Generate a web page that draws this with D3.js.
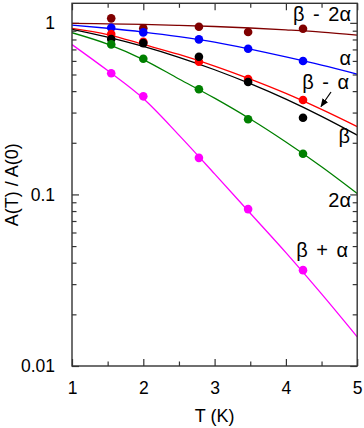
<!DOCTYPE html>
<html><head><meta charset="utf-8">
<script src="https://cdn.jsdelivr.net/npm/d3@7"></script>
<style>
body{margin:0;background:#fff}
svg text{font-family:"Liberation Sans",Arial,Helvetica,sans-serif;fill:#000}
</style>
</head><body>
<svg id="chart" width="364" height="428"></svg>
<script>
// ---- data ----
const curveT = [1, 1.5, 2, 2.5, 3, 3.5, 4, 4.5, 5];
const pointT = [1.55, 2.0, 2.78, 3.47, 4.24];

const fitBeta2Alpha   = [0.993, 0.987, 0.979, 0.967, 0.952, 0.933, 0.910, 0.884, 0.849];
const fitAlpha        = [0.971, 0.930, 0.884, 0.832, 0.773, 0.703, 0.633, 0.567, 0.503];
const fitBetaMinus    = [0.929, 0.855, 0.749, 0.654, 0.560, 0.470, 0.388, 0.313, 0.2485];
const fitBeta         = [0.917, 0.826, 0.729, 0.630, 0.533, 0.442, 0.359, 0.285, 0.2217];
const fit2Alpha       = [0.876, 0.752, 0.611, 0.471, 0.364, 0.275, 0.202, 0.145, 0.1013];
const fitBetaPlus     = [0.747, 0.527, 0.362, 0.2217, 0.1318, 0.0777, 0.0458, 0.0263, 0.01478];

const ptsBeta2Alpha   = [1.062, 0.929, 0.949, 0.884, 0.924];
const ptsAlpha        = [0.936, 0.880, 0.801, 0.706, 0.599];
const ptsBetaMinus    = [0.860, 0.775, 0.593, 0.470, 0.355];
const ptsBeta         = [0.804, 0.762, 0.634, 0.452, 0.280];
const pts2Alpha       = [0.749, 0.618, 0.410, 0.274, 0.1725];
const ptsBetaPlus     = [0.508, 0.373, 0.1634, 0.0821, 0.0362];

const seriesNames = ["β - 2α", "α", "β - α", "β", "2α", "β + α"];
const xMajorTicks = [1, 2, 3, 4, 5];
const xMinorTicks = [1.5, 2.5, 3.5, 4.5];
const yMajorTicks = [0.01, 0.1, 1];
const yTickLabels = ["0.01", "0.1", "1"];
const yMinorTicks = [0.02,0.03,0.04,0.05,0.06,0.07,0.08,0.09,0.2,0.3,0.4,0.5,0.6,0.7,0.8,0.9];
const xTitle = "T (K)";
const yTitle = "A(T) / A(0)";

// ---- styling / layout ----
const colors = ["#800000", "#0000ff", "#ff0000", "#000000", "#008000", "#ff00ff"];
const fits = [fitBeta2Alpha, fitAlpha, fitBetaMinus, fitBeta, fit2Alpha, fitBetaPlus];
const pts  = [ptsBeta2Alpha, ptsAlpha, ptsBetaMinus, ptsBeta, pts2Alpha, ptsBetaPlus];
const labelPos = [[351, 20.5], [351, 65], [349, 88.5], [350, 143], [351, 207], [348, 257]];

const L = 72, R = 357.2, T = 3.3, B = 366;
const svg = d3.select("#chart");
const x = d3.scaleLinear().domain([1, 5]).range([L, R]);
const y = d3.scaleLog().domain([0.01, 1.3]).range([B, T]);

const axisColor = "#333";
function styleAxis(g){
  g.select(".domain").remove();
  g.selectAll(".tick line").attr("stroke", axisColor).attr("stroke-width", 1.2);
  g.selectAll(".tick text").attr("font-size", 17.5).attr("fill", "#000")
    .style("font-family", '"Liberation Sans",Arial,sans-serif');
}
// bottom
svg.append("g").attr("transform", `translate(0,${B})`)
  .call(d3.axisBottom(x).tickValues(xMajorTicks).tickSizeInner(-7).tickSizeOuter(0).tickPadding(16).tickFormat(d3.format("d")))
  .call(styleAxis);
svg.append("g").attr("transform", `translate(0,${B})`)
  .call(d3.axisBottom(x).tickValues(xMinorTicks).tickSizeInner(-4.5).tickSizeOuter(0).tickFormat(""))
  .call(styleAxis);
// top
svg.append("g").attr("transform", `translate(0,${T})`)
  .call(d3.axisTop(x).tickValues(xMajorTicks).tickSizeInner(-7).tickSizeOuter(0).tickFormat(""))
  .call(styleAxis);
svg.append("g").attr("transform", `translate(0,${T})`)
  .call(d3.axisTop(x).tickValues(xMinorTicks).tickSizeInner(-4.5).tickSizeOuter(0).tickFormat(""))
  .call(styleAxis);
// left
svg.append("g").attr("transform", `translate(${L},0)`)
  .call(d3.axisLeft(y).tickValues(yMajorTicks).tickSizeInner(-7).tickSizeOuter(0).tickPadding(17)
        .tickFormat((d, i) => yTickLabels[i]))
  .call(styleAxis);
svg.append("g").attr("transform", `translate(${L},0)`)
  .call(d3.axisLeft(y).tickValues(yMinorTicks).tickSizeInner(-4.5).tickSizeOuter(0).tickFormat(""))
  .call(styleAxis);
// right
svg.append("g").attr("transform", `translate(${R},0)`)
  .call(d3.axisRight(y).tickValues(yMajorTicks).tickSizeInner(-7).tickSizeOuter(0).tickFormat(""))
  .call(styleAxis);
svg.append("g").attr("transform", `translate(${R},0)`)
  .call(d3.axisRight(y).tickValues(yMinorTicks).tickSizeInner(-4.5).tickSizeOuter(0).tickFormat(""))
  .call(styleAxis);

// clip
svg.append("clipPath").attr("id", "clip").append("rect")
  .attr("x", L).attr("y", T).attr("width", R - L).attr("height", B - T);

const line = d3.line().x(d => x(d[0])).y(d => y(d[1])).curve(d3.curveMonotoneX);
const plot = svg.append("g").attr("clip-path", "url(#clip)");
fits.forEach((f, i) => {
  plot.append("path").datum(curveT.map((t, j) => [t, f[j]]))
    .attr("d", line).attr("fill", "none").attr("stroke", colors[i]).attr("stroke-width", 1.3);
});
pts.forEach((p, i) => {
  plot.append("g").selectAll("circle").data(pointT.map((t, j) => [t, p[j]])).join("circle")
    .attr("cx", d => x(d[0])).attr("cy", d => y(d[1])).attr("r", 4.3).attr("fill", colors[i]);
});

// frame
svg.append("rect").attr("x", L).attr("y", T).attr("width", R - L).attr("height", B - T)
  .attr("fill", "none").attr("stroke", axisColor).attr("stroke-width", 1.4);

// series labels
seriesNames.forEach((s, i) => {
  svg.append("text").attr("x", labelPos[i][0]).attr("y", labelPos[i][1])
    .attr("text-anchor", "end").attr("font-size", 20).attr("word-spacing", 3).text(s);
});

// arrow
svg.append("defs").append("marker").attr("id", "ah").attr("viewBox", "0 0 10 10")
  .attr("refX", 9).attr("refY", 5).attr("markerWidth", 7).attr("markerHeight", 7)
  .attr("orient", "auto").append("path").attr("d", "M0,1 L10,5 L0,9 Z").attr("fill", "#000");
svg.append("line").attr("x1", 331).attr("y1", 92).attr("x2", 321).attr("y2", 106.5)
  .attr("stroke", "#000").attr("stroke-width", 1.2).attr("marker-end", "url(#ah)");

// axis titles
svg.append("text").attr("x", (L + R) / 2).attr("y", 422).attr("text-anchor", "middle")
  .attr("font-size", 18).text(xTitle);
svg.append("text").attr("transform", `translate(18,${(T + B) / 2}) rotate(-90)`)
  .attr("text-anchor", "middle").attr("font-size", 18).text(yTitle);
</script>
</body></html>
